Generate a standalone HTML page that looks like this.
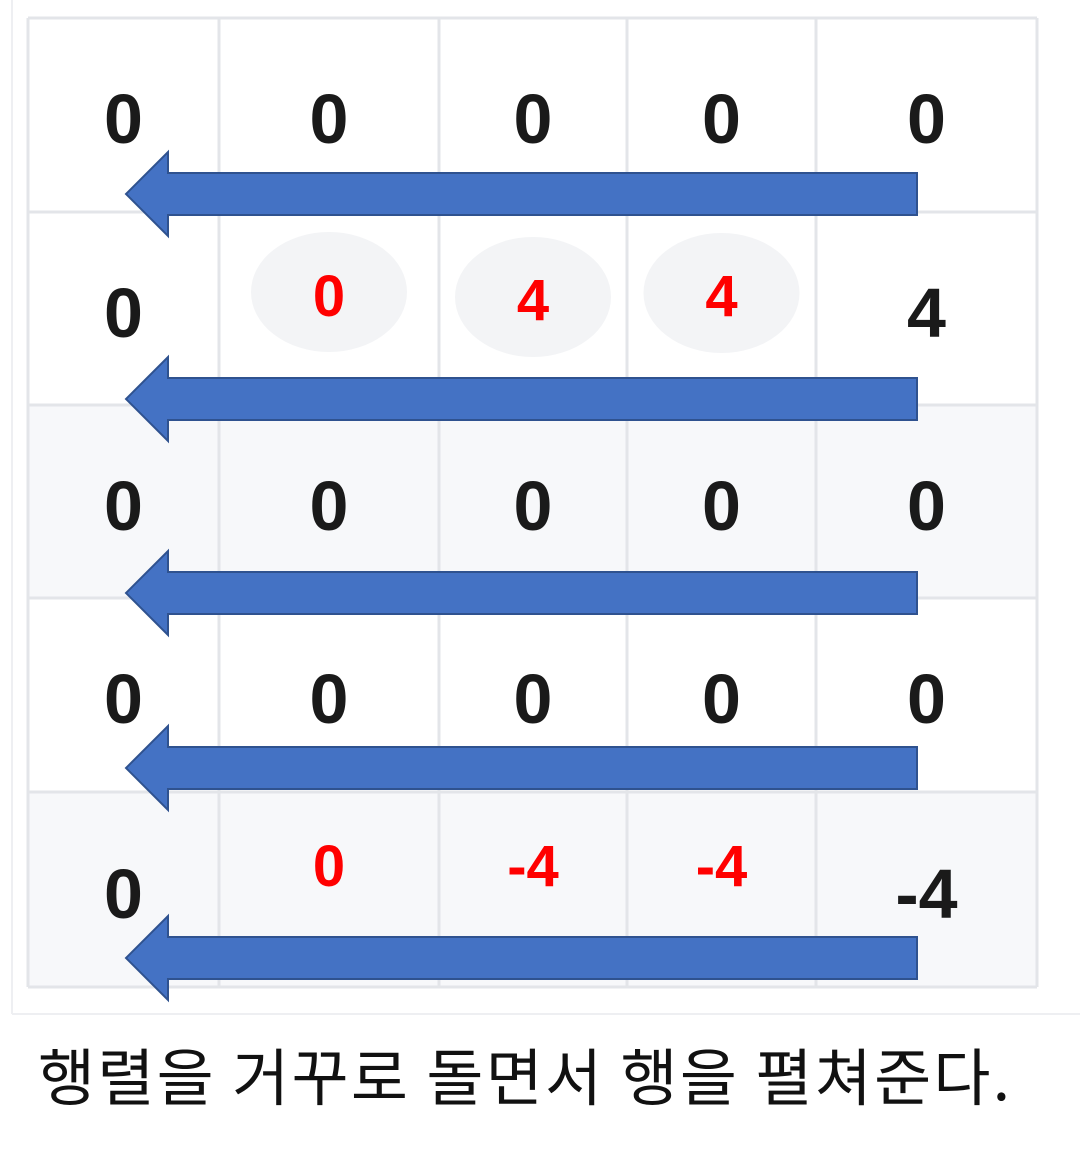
<!DOCTYPE html>
<html><head><meta charset="utf-8"><style>
html,body{margin:0;padding:0;background:#fff;}
body{width:1080px;height:1150px;position:relative;overflow:hidden;font-family:"Liberation Sans","Noto Sans CJK KR",sans-serif;}
</style></head><body>
<svg width="1080" height="1150" id="svg">
<line x1="12" y1="0" x2="12" y2="1014" stroke="#eeeff2" stroke-width="2"/>
<line x1="12" y1="1014" x2="1080" y2="1014" stroke="#eeeff2" stroke-width="2"/>
<g id="grid"></g>
<g id="arrows"></g>
<text x="38" y="1100" font-size="62" fill="#111" textLength="972" lengthAdjust="spacing" font-family="'Noto Sans CJK KR',sans-serif">행렬을 거꾸로 돌면서 행을 펼쳐준다.</text>
</svg>
<script>
const values = [
 ["0","0","0","0","0"],
 ["0","0","4","4","4"],
 ["0","0","0","0","0"],
 ["0","0","0","0","0"],
 ["0","0","-4","-4","-4"]
];
const redCells = [[1,1],[1,2],[1,3],[4,1],[4,2],[4,3]];
const ellipseCells = [[1,1],[1,2],[1,3]];
const shadedRows = [2,4];
const NS="http://www.w3.org/2000/svg";
const colX=[28,219,439,627,816,1037];
const rowY=[18,212,405,598,792,987];
const grid=document.getElementById('grid');
function mk(t,a,p){const e=document.createElementNS(NS,t);for(const k in a)e.setAttribute(k,a[k]);p.appendChild(e);return e;}
shadedRows.forEach(r=>{
 const e=mk('rect',{x:colX[0],y:rowY[r],width:colX[5]-colX[0],height:rowY[r+1]-rowY[r],fill:'#f7f8fa'},grid);
 
 
});
ellipseCells.forEach(([r,c],i)=>{
 const cx=(colX[c]+colX[c+1])/2, cy=[292,297,293][i];
 const e=mk('ellipse',{cx:cx,cy:cy,rx:78,ry:60,fill:'#f3f4f6'},grid);
 
 
});
colX.forEach(x=>{const e=mk('line',{x1:x,y1:rowY[0],x2:x,y2:rowY[5],stroke:'#e3e5e9','stroke-width':3},grid);
 
 });
rowY.forEach(y=>{const e=mk('line',{x1:colX[0],y1:y,x2:colX[5],y2:y,stroke:'#e3e5e9','stroke-width':3},grid);
 
 });
const blackY=[118,312,505,698,893];
values.forEach((row,r)=>row.forEach((v,c)=>{
 const red=redCells.some(([a,b])=>a===r&&b===c);
 const cx=(colX[c]+colX[c+1])/2;
 const y=red?(r===1?(c===2?300:296):866):blackY[r];
 const t=mk('text',{x:cx,y:y+(red?20:25),'text-anchor':'middle','font-size':red?58:70,'font-weight':'bold',fill:red?'#ff0000':'#1a1a1a'},grid);
 t.textContent=v;
 
 
}));
const arrowY=[194,399,593,768,958];
const ag=document.getElementById('arrows');
arrowY.forEach(y=>{
 const p=`M917,${y-21} L168,${y-21} L168,${y-42} L126,${y} L168,${y+42} L168,${y+21} L917,${y+21} Z`;
 const e=mk('path',{d:p,fill:'#4472c4',stroke:'#2f528f','stroke-width':2},ag);
 
 
});
</script>
</body></html>
